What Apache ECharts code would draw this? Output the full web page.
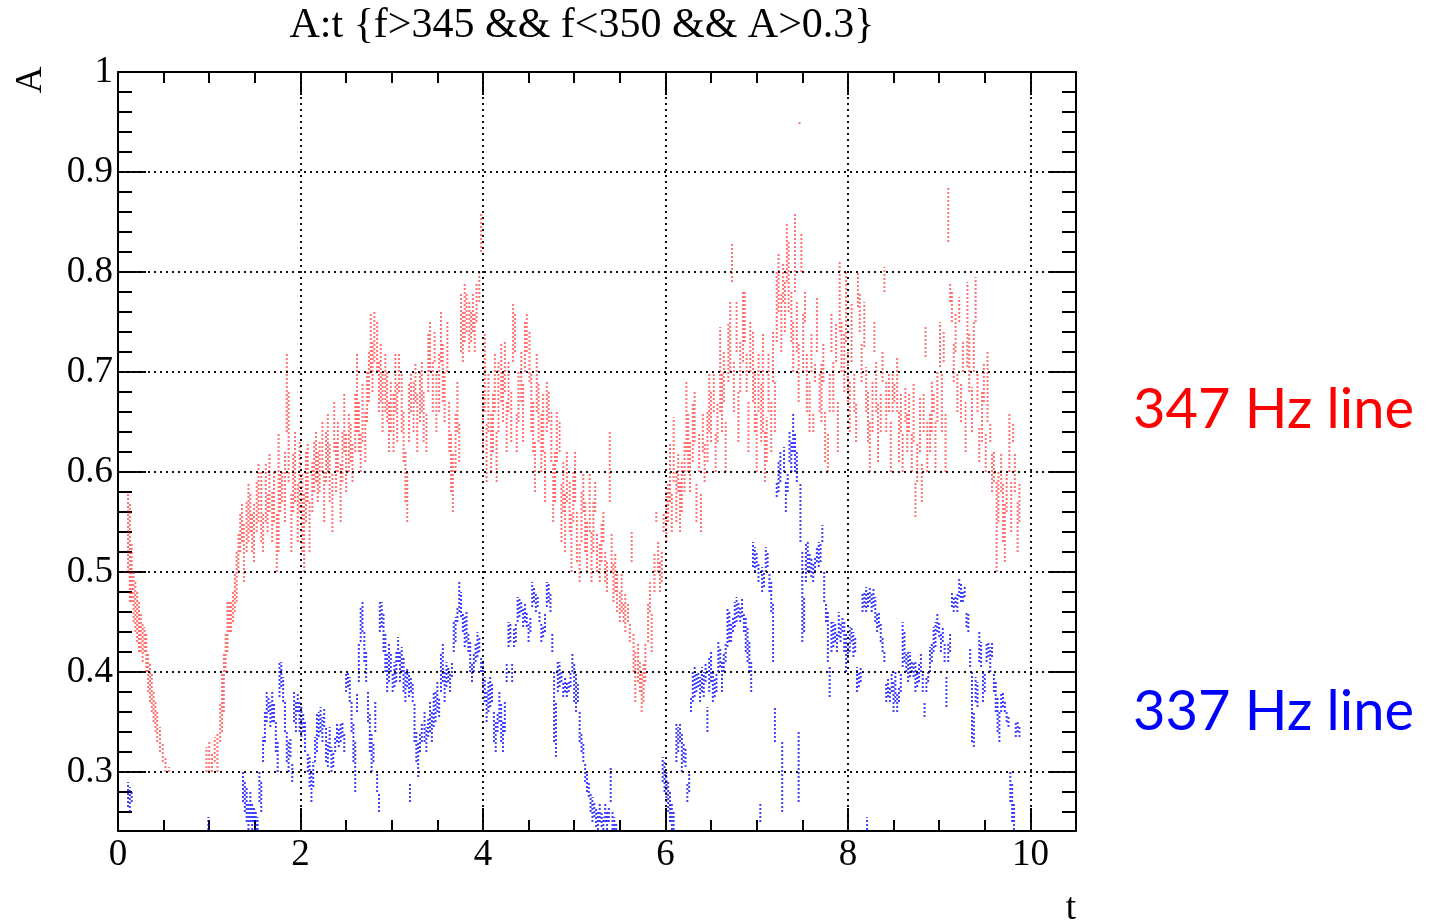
<!DOCTYPE html>
<html>
<head>
<meta charset="utf-8">
<title>A:t {f>345 && f<350 && A>0.3}</title>
<script src="https://cdn.jsdelivr.net/npm/echarts@6/dist/echarts.min.js"></script>
<style>
  html, body { margin: 0; padding: 0; background: #fff; }
  #chart { width: 1435px; height: 920px; }
</style>
</head>
<body>
<div id="chart"></div>
<script>
// Each entry is one vertical run of samples: [t, A low, A high]
const red347 = [
  [0.11,0.50,0.58],[0.13,0.47,0.57],[0.15,0.47,0.53],[0.17,0.45,0.50],[0.19,0.44,0.49],[0.21,0.43,0.48],[0.23,0.42,0.47],[0.25,0.42,0.46],[0.27,0.41,0.45],[0.29,0.42,0.445],[0.31,0.40,0.44],[0.33,0.38,0.42],[0.35,0.37,0.41],[0.37,0.36,0.40],[0.39,0.35,0.38],[0.41,0.34,0.37],[0.43,0.33,0.36],[0.46,0.32,0.345],[0.49,0.31,0.33],[0.52,0.30,0.315],[0.56,0.30,0.305],
  [0.97,0.30,0.325],[1.00,0.30,0.33],[1.03,0.30,0.32],[1.06,0.31,0.335],[1.09,0.30,0.34],[1.12,0.33,0.37],[1.14,0.34,0.40],[1.16,0.36,0.42],[1.18,0.40,0.44],[1.20,0.42,0.47],[1.22,0.44,0.47],[1.24,0.44,0.47],[1.26,0.45,0.48],[1.28,0.46,0.50],[1.30,0.47,0.52],
  [1.32,0.50,0.54],[1.34,0.52,0.56],[1.36,0.53,0.57],[1.38,0.49,0.55],[1.41,0.52,0.57],[1.43,0.53,0.59],[1.45,0.54,0.58],[1.47,0.52,0.56],[1.49,0.51,0.57],[1.52,0.54,0.59],[1.54,0.55,0.61],[1.57,0.53,0.60],[1.59,0.52,0.56],[1.62,0.55,0.61],[1.64,0.54,0.58],[1.66,0.56,0.62],[1.69,0.53,0.58],[1.71,0.55,0.60],[1.74,0.50,0.56],[1.76,0.52,0.64],[1.78,0.56,0.60],[1.80,0.57,0.60],[1.83,0.55,0.62],[1.85,0.64,0.72],[1.87,0.59,0.68],[1.90,0.52,0.58],[1.92,0.56,0.62],[1.94,0.57,0.64],[1.97,0.53,0.59],[1.99,0.56,0.63],
  [2.02,0.52,0.60],[2.04,0.50,0.58],[2.06,0.55,0.62],[2.08,0.57,0.63],[2.10,0.52,0.57],[2.13,0.56,0.61],[2.15,0.58,0.63],[2.17,0.59,0.64],[2.19,0.57,0.62],[2.21,0.58,0.63],[2.24,0.60,0.65],[2.26,0.55,0.60],[2.28,0.59,0.64],[2.30,0.60,0.66],[2.32,0.57,0.63],[2.35,0.54,0.60],[2.37,0.62,0.67],[2.39,0.58,0.63],[2.41,0.60,0.65],[2.44,0.55,0.61],[2.46,0.59,0.64],[2.48,0.62,0.68],[2.50,0.58,0.64],[2.53,0.60,0.66],[2.55,0.61,0.65],[2.57,0.59,0.63],[2.60,0.62,0.68],[2.62,0.64,0.72],[2.64,0.62,0.67],[2.66,0.60,0.64],[2.68,0.63,0.69],[2.71,0.61,0.66],[2.73,0.65,0.70],[2.75,0.67,0.72],[2.77,0.70,0.76],[2.79,0.68,0.73],[2.81,0.71,0.76],[2.84,0.70,0.75],[2.86,0.66,0.71],[2.88,0.67,0.73],[2.90,0.64,0.70],[2.93,0.66,0.72],[2.95,0.65,0.70],[2.97,0.62,0.67],[2.99,0.64,0.69],
  [3.02,0.62,0.68],[3.04,0.66,0.72],[3.06,0.63,0.69],[3.08,0.68,0.72],[3.11,0.64,0.70],[3.13,0.61,0.66],[3.15,0.57,0.62],[3.17,0.55,0.60],[3.19,0.63,0.69],[3.21,0.66,0.70],[3.24,0.64,0.69],[3.26,0.67,0.71],[3.28,0.62,0.68],[3.31,0.65,0.70],[3.33,0.66,0.71],[3.35,0.63,0.68],[3.38,0.62,0.66],[3.40,0.68,0.74],[3.42,0.70,0.75],[3.45,0.66,0.71],[3.47,0.71,0.74],[3.49,0.64,0.70],[3.52,0.66,0.72],[3.54,0.71,0.76],[3.56,0.67,0.73],[3.58,0.65,0.70],[3.61,0.70,0.75],[3.63,0.62,0.67],[3.65,0.58,0.64],[3.67,0.56,0.62],[3.70,0.60,0.66],[3.72,0.64,0.69],[3.74,0.61,0.65],[3.76,0.72,0.78],[3.78,0.71,0.76],[3.80,0.73,0.79],[3.82,0.74,0.78],[3.85,0.72,0.77],[3.87,0.73,0.76],[3.89,0.74,0.78],[3.91,0.72,0.76],[3.93,0.75,0.79],[3.96,0.77,0.80],[3.98,0.82,0.86],[4.00,0.62,0.68],
  [4.02,0.66,0.74],[4.04,0.59,0.65],[4.06,0.64,0.70],[4.09,0.60,0.66],[4.11,0.62,0.68],[4.13,0.66,0.72],[4.15,0.59,0.64],[4.17,0.64,0.71],[4.20,0.67,0.73],[4.22,0.65,0.70],[4.24,0.68,0.73],[4.26,0.62,0.67],[4.28,0.66,0.71],[4.31,0.63,0.68],[4.33,0.71,0.77],[4.35,0.72,0.76],[4.37,0.62,0.66],[4.39,0.65,0.70],[4.42,0.67,0.72],[4.44,0.63,0.69],[4.46,0.70,0.75],[4.48,0.72,0.76],[4.51,0.69,0.74],[4.53,0.64,0.70],[4.55,0.62,0.67],[4.57,0.58,0.63],[4.59,0.66,0.72],[4.61,0.63,0.69],[4.64,0.60,0.66],[4.66,0.62,0.68],[4.68,0.57,0.62],[4.70,0.64,0.69],[4.72,0.65,0.68],[4.75,0.61,0.66],[4.77,0.55,0.61],[4.79,0.57,0.62],[4.81,0.61,0.66],[4.84,0.62,0.65],[4.86,0.53,0.59],[4.88,0.56,0.61],[4.90,0.52,0.58],[4.92,0.57,0.62],[4.95,0.54,0.59],[4.97,0.50,0.56],[4.99,0.55,0.60],
  [5.01,0.57,0.62],[5.03,0.51,0.56],[5.06,0.49,0.53],[5.08,0.53,0.58],[5.10,0.56,0.60],[5.12,0.52,0.57],[5.14,0.50,0.55],[5.17,0.54,0.60],[5.19,0.49,0.54],[5.21,0.52,0.57],[5.23,0.56,0.59],[5.25,0.50,0.54],[5.28,0.49,0.53],[5.30,0.51,0.55],[5.32,0.53,0.56],[5.34,0.49,0.52],[5.36,0.48,0.51],[5.39,0.57,0.64],[5.41,0.50,0.54],[5.43,0.47,0.51],[5.45,0.48,0.52],[5.47,0.46,0.50],[5.50,0.45,0.48],[5.52,0.46,0.50],[5.54,0.45,0.47],[5.56,0.44,0.48],[5.59,0.45,0.47],[5.61,0.43,0.45],[5.63,0.51,0.54],[5.65,0.40,0.44],[5.67,0.37,0.42],[5.70,0.39,0.43],[5.72,0.38,0.41],[5.74,0.36,0.40],[5.76,0.37,0.41],[5.78,0.39,0.43],[5.81,0.43,0.47],[5.83,0.46,0.49],[5.85,0.42,0.46],[5.88,0.48,0.52],[5.90,0.55,0.56],[5.92,0.50,0.53],[5.94,0.48,0.51],[5.96,0.49,0.52],[5.98,0.54,0.56],
  [6.01,0.53,0.58],[6.03,0.55,0.59],[6.05,0.57,0.63],[6.07,0.54,0.58],[6.09,0.59,0.655],[6.12,0.55,0.60],[6.14,0.58,0.62],[6.16,0.54,0.59],[6.18,0.56,0.61],[6.21,0.58,0.63],[6.23,0.62,0.69],[6.25,0.60,0.66],[6.27,0.58,0.63],[6.30,0.61,0.67],[6.32,0.63,0.68],[6.34,0.55,0.59],[6.37,0.60,0.64],[6.39,0.54,0.58],[6.41,0.62,0.66],[6.43,0.59,0.63],[6.46,0.61,0.66],[6.48,0.64,0.70],[6.50,0.63,0.68],[6.53,0.66,0.70],[6.55,0.60,0.64],[6.57,0.63,0.67],[6.60,0.66,0.745],[6.62,0.64,0.70],[6.64,0.67,0.72],[6.66,0.60,0.65],[6.69,0.69,0.75],[6.71,0.70,0.77],[6.73,0.79,0.83],[6.75,0.66,0.71],[6.78,0.72,0.77],[6.80,0.63,0.68],[6.82,0.68,0.73],[6.85,0.71,0.78],[6.87,0.73,0.78],[6.89,0.68,0.72],[6.91,0.62,0.67],[6.93,0.70,0.75],[6.96,0.67,0.74],[6.98,0.64,0.70],[7.00,0.60,0.66],
  [7.02,0.66,0.72],[7.05,0.63,0.69],[7.07,0.64,0.74],[7.09,0.59,0.64],[7.11,0.61,0.655],[7.13,0.66,0.72],[7.16,0.62,0.67],[7.18,0.69,0.74],[7.20,0.64,0.69],[7.22,0.73,0.80],[7.24,0.76,0.82],[7.27,0.72,0.78],[7.29,0.77,0.81],[7.31,0.74,0.79],[7.33,0.79,0.85],[7.35,0.76,0.83],[7.38,0.73,0.78],[7.40,0.70,0.75],[7.42,0.78,0.86],[7.44,0.72,0.77],[7.46,0.67,0.73],[7.47,0.948,0.952],[7.49,0.80,0.84],[7.51,0.70,0.76],[7.53,0.75,0.78],[7.55,0.66,0.72],[7.58,0.64,0.69],[7.60,0.70,0.74],[7.62,0.64,0.66],[7.64,0.69,0.71],[7.66,0.72,0.775],[7.69,0.66,0.70],[7.71,0.65,0.71],[7.73,0.69,0.73],[7.75,0.61,0.66],[7.78,0.60,0.64],[7.80,0.66,0.70],[7.82,0.72,0.76],[7.84,0.66,0.71],[7.87,0.71,0.75],[7.89,0.62,0.67],[7.91,0.74,0.81],[7.93,0.70,0.75],[7.96,0.68,0.74],[7.98,0.73,0.80],
  [8.00,0.67,0.72],[8.02,0.64,0.69],[8.04,0.71,0.77],[8.07,0.66,0.70],[8.09,0.63,0.67],[8.11,0.765,0.80],[8.13,0.74,0.78],[8.15,0.69,0.73],[8.18,0.725,0.77],[8.20,0.66,0.705],[8.22,0.63,0.68],[8.24,0.60,0.65],[8.27,0.64,0.69],[8.29,0.72,0.75],[8.31,0.66,0.71],[8.33,0.61,0.67],[8.36,0.64,0.68],[8.38,0.69,0.72],[8.40,0.78,0.805],[8.42,0.64,0.69],[8.45,0.66,0.70],[8.47,0.60,0.65],[8.49,0.66,0.70],[8.51,0.67,0.69],[8.54,0.66,0.715],[8.56,0.61,0.66],[8.58,0.64,0.68],[8.60,0.60,0.64],[8.63,0.65,0.685],[8.65,0.62,0.66],[8.67,0.64,0.68],[8.70,0.60,0.64],[8.72,0.63,0.69],[8.74,0.555,0.59],[8.76,0.59,0.63],[8.79,0.62,0.675],[8.81,0.57,0.61],[8.83,0.64,0.68],[8.85,0.715,0.745],[8.87,0.60,0.65],[8.90,0.62,0.66],[8.92,0.64,0.69],[8.94,0.66,0.68],[8.96,0.60,0.65],[8.98,0.65,0.70],
  [9.01,0.705,0.75],[9.03,0.64,0.70],[9.05,0.71,0.74],[9.07,0.60,0.66],[9.10,0.83,0.885],[9.12,0.77,0.79],[9.14,0.75,0.78],[9.16,0.69,0.73],[9.18,0.72,0.76],[9.20,0.66,0.70],[9.22,0.75,0.775],[9.24,0.65,0.69],[9.26,0.70,0.73],[9.29,0.62,0.67],[9.31,0.705,0.79],[9.33,0.68,0.74],[9.36,0.64,0.685],[9.38,0.70,0.75],[9.40,0.75,0.795],[9.42,0.66,0.70],[9.44,0.61,0.645],[9.47,0.63,0.68],[9.49,0.67,0.71],[9.51,0.60,0.64],[9.53,0.65,0.72],[9.56,0.63,0.65],[9.58,0.58,0.62],[9.60,0.59,0.62],[9.63,0.50,0.59],[9.65,0.55,0.60],[9.68,0.58,0.62],[9.70,0.53,0.59],[9.72,0.51,0.57],[9.74,0.56,0.60],[9.77,0.60,0.66],[9.79,0.54,0.59],[9.81,0.63,0.65],[9.83,0.58,0.62],[9.86,0.52,0.57],[9.88,0.55,0.59]
];

const blue337 = [
  [0.11,0.265,0.29],[0.13,0.26,0.285],[0.15,0.27,0.28],
  [0.99,0.242,0.255],
  [1.37,0.27,0.30],[1.39,0.26,0.29],[1.41,0.25,0.285],[1.43,0.242,0.27],[1.45,0.25,0.28],[1.47,0.242,0.27],[1.49,0.25,0.265],[1.51,0.242,0.26],[1.53,0.242,0.255],[1.55,0.27,0.30],[1.57,0.26,0.29],[1.59,0.31,0.335],[1.61,0.33,0.36],[1.63,0.35,0.38],[1.65,0.36,0.375],[1.67,0.345,0.37],[1.69,0.35,0.38],[1.71,0.35,0.37],[1.73,0.32,0.35],[1.75,0.30,0.33],[1.77,0.375,0.41],[1.79,0.385,0.41],[1.81,0.37,0.395],[1.83,0.34,0.37],[1.85,0.31,0.34],[1.87,0.30,0.33],[1.89,0.315,0.335],[1.91,0.29,0.31],[1.93,0.35,0.38],[1.95,0.34,0.37],[1.97,0.36,0.38],[1.99,0.34,0.37],
  [2.01,0.335,0.365],[2.03,0.34,0.36],[2.05,0.32,0.35],[2.08,0.30,0.32],[2.10,0.285,0.315],[2.12,0.27,0.30],[2.14,0.285,0.31],[2.16,0.31,0.335],[2.18,0.32,0.36],[2.20,0.335,0.36],[2.22,0.34,0.365],[2.24,0.33,0.355],[2.26,0.345,0.365],[2.28,0.31,0.345],[2.30,0.305,0.33],[2.32,0.32,0.345],[2.34,0.30,0.325],[2.36,0.305,0.32],[2.38,0.32,0.335],[2.40,0.33,0.35],[2.42,0.325,0.345],[2.44,0.33,0.35],[2.46,0.335,0.35],[2.48,0.32,0.34],[2.50,0.38,0.40],[2.52,0.385,0.40],[2.54,0.37,0.395],[2.56,0.34,0.37],[2.58,0.31,0.35],[2.60,0.28,0.33],[2.62,0.36,0.38],[2.64,0.39,0.43],[2.66,0.43,0.465],[2.68,0.44,0.47],[2.70,0.41,0.44],[2.72,0.39,0.42],[2.74,0.35,0.38],[2.76,0.32,0.36],[2.78,0.30,0.34],[2.80,0.31,0.33],[2.82,0.34,0.37],[2.84,0.28,0.30],[2.86,0.26,0.28],[2.87,0.44,0.47],[2.89,0.445,0.47],[2.91,0.42,0.46],[2.93,0.40,0.44],[2.95,0.38,0.42],[2.97,0.39,0.43],[2.99,0.40,0.42],
  [3.01,0.38,0.40],[3.03,0.385,0.41],[3.05,0.39,0.42],[3.07,0.41,0.435],[3.09,0.39,0.42],[3.11,0.40,0.425],[3.13,0.38,0.415],[3.15,0.37,0.40],[3.17,0.385,0.405],[3.19,0.375,0.40],[3.20,0.27,0.29],[3.21,0.38,0.395],[3.23,0.37,0.39],[3.25,0.33,0.37],[3.27,0.31,0.34],[3.29,0.295,0.33],[3.31,0.32,0.34],[3.33,0.33,0.35],[3.36,0.33,0.36],[3.38,0.32,0.345],[3.40,0.335,0.355],[3.42,0.34,0.37],[3.44,0.33,0.36],[3.46,0.345,0.38],[3.48,0.35,0.38],[3.50,0.36,0.39],[3.52,0.355,0.375],[3.54,0.38,0.42],[3.56,0.39,0.43],[3.58,0.37,0.40],[3.60,0.385,0.41],[3.62,0.39,0.405],[3.64,0.38,0.40],[3.66,0.395,0.41],[3.68,0.42,0.45],[3.70,0.43,0.455],[3.72,0.45,0.465],[3.74,0.46,0.49],[3.76,0.455,0.48],[3.78,0.44,0.46],[3.80,0.425,0.455],[3.82,0.43,0.46],[3.84,0.42,0.44],[3.86,0.40,0.43],[3.88,0.39,0.41],[3.90,0.40,0.42],[3.92,0.41,0.43],[3.94,0.415,0.44],[3.96,0.42,0.435],[3.98,0.40,0.415],
  [4.00,0.38,0.41],[4.02,0.37,0.395],[4.04,0.35,0.38],[4.06,0.36,0.39],[4.08,0.365,0.395],[4.10,0.37,0.39],[4.12,0.33,0.36],[4.14,0.32,0.35],[4.16,0.34,0.36],[4.18,0.35,0.38],[4.20,0.33,0.37],[4.22,0.32,0.35],[4.24,0.34,0.37],[4.26,0.39,0.41],[4.28,0.425,0.45],[4.30,0.43,0.45],[4.32,0.39,0.41],[4.34,0.425,0.445],[4.36,0.43,0.45],[4.38,0.45,0.475],[4.40,0.455,0.475],[4.42,0.46,0.47],[4.44,0.445,0.465],[4.46,0.45,0.47],[4.48,0.445,0.46],[4.50,0.43,0.45],[4.52,0.44,0.455],[4.54,0.465,0.49],[4.56,0.47,0.485],[4.58,0.46,0.48],[4.60,0.465,0.475],[4.62,0.45,0.46],[4.64,0.43,0.45],[4.66,0.435,0.445],[4.68,0.44,0.46],[4.70,0.465,0.49],[4.72,0.47,0.49],[4.74,0.46,0.48],[4.76,0.42,0.44],[4.78,0.33,0.40],[4.80,0.315,0.37],[4.82,0.38,0.41],[4.84,0.385,0.41],[4.86,0.39,0.40],[4.88,0.375,0.39],[4.90,0.38,0.395],[4.92,0.375,0.39],[4.94,0.38,0.39],[4.96,0.385,0.40],[4.98,0.40,0.42],
  [5.00,0.37,0.41],[5.02,0.36,0.40],[5.04,0.37,0.39],[5.06,0.33,0.36],[5.08,0.32,0.34],[5.10,0.31,0.33],[5.12,0.29,0.31],[5.14,0.28,0.30],[5.16,0.275,0.29],[5.18,0.26,0.28],[5.20,0.25,0.275],[5.22,0.255,0.27],[5.24,0.245,0.265],[5.26,0.242,0.26],[5.28,0.25,0.27],[5.30,0.245,0.26],[5.32,0.242,0.255],[5.34,0.25,0.27],[5.36,0.242,0.26],[5.38,0.25,0.265],[5.40,0.27,0.305],[5.42,0.242,0.26],[5.44,0.242,0.255],[5.46,0.242,0.25],
  [5.97,0.29,0.315],[5.99,0.28,0.31],[6.01,0.27,0.30],[6.03,0.26,0.29],[6.05,0.25,0.28],[6.07,0.242,0.27],[6.09,0.242,0.26],[6.12,0.31,0.35],[6.14,0.32,0.345],[6.16,0.33,0.35],[6.18,0.30,0.34],[6.20,0.31,0.33],[6.22,0.305,0.325],[6.24,0.27,0.29],[6.26,0.28,0.30],[6.28,0.36,0.375],[6.30,0.37,0.40],[6.32,0.375,0.405],[6.34,0.38,0.40],[6.36,0.385,0.40],[6.38,0.37,0.395],[6.40,0.38,0.405],[6.42,0.375,0.40],[6.44,0.39,0.41],[6.46,0.34,0.365],[6.48,0.38,0.415],[6.50,0.39,0.42],[6.52,0.37,0.40],[6.54,0.375,0.395],[6.56,0.38,0.40],[6.58,0.40,0.43],[6.60,0.405,0.425],[6.62,0.38,0.41],[6.64,0.40,0.42],[6.66,0.41,0.43],[6.68,0.425,0.465],[6.70,0.43,0.46],[6.72,0.43,0.45],[6.74,0.44,0.455],[6.76,0.445,0.47],[6.78,0.45,0.475],[6.80,0.455,0.47],[6.82,0.45,0.465],[6.84,0.455,0.475],[6.86,0.44,0.46],[6.88,0.42,0.455],[6.90,0.41,0.445],[6.92,0.40,0.43],[6.94,0.38,0.41],[6.96,0.505,0.53],[6.98,0.50,0.525],
  [7.00,0.505,0.52],[7.02,0.49,0.51],[7.04,0.25,0.27],[7.06,0.48,0.505],[7.08,0.485,0.50],[7.10,0.50,0.525],[7.12,0.505,0.52],[7.14,0.48,0.50],[7.16,0.46,0.49],[7.18,0.41,0.47],[7.20,0.33,0.365],[7.22,0.575,0.59],[7.24,0.58,0.61],[7.26,0.59,0.62],[7.28,0.26,0.33],[7.30,0.60,0.625],[7.32,0.56,0.59],[7.34,0.58,0.60],[7.36,0.61,0.64],[7.38,0.60,0.63],[7.40,0.62,0.66],[7.42,0.60,0.64],[7.44,0.59,0.62],[7.46,0.27,0.34],[7.48,0.53,0.59],[7.50,0.43,0.52],[7.52,0.44,0.475],[7.54,0.49,0.53],[7.56,0.50,0.53],[7.58,0.50,0.52],[7.60,0.495,0.515],[7.62,0.49,0.51],[7.64,0.50,0.515],[7.66,0.51,0.525],[7.68,0.505,0.53],[7.70,0.51,0.53],[7.72,0.53,0.547],[7.74,0.47,0.50],[7.76,0.45,0.47],[7.78,0.41,0.46],[7.80,0.375,0.405],[7.82,0.42,0.45],[7.84,0.425,0.45],[7.86,0.43,0.45],[7.88,0.42,0.44],[7.90,0.435,0.46],[7.92,0.43,0.45],[7.94,0.44,0.455],[7.96,0.42,0.45],[7.98,0.40,0.44],
  [8.00,0.41,0.43],[8.02,0.42,0.445],[8.04,0.43,0.445],[8.06,0.415,0.44],[8.08,0.42,0.435],[8.10,0.38,0.405],[8.12,0.385,0.40],[8.14,0.39,0.405],[8.16,0.46,0.48],[8.18,0.465,0.48],[8.20,0.46,0.485],[8.21,0.242,0.255],[8.22,0.465,0.48],[8.24,0.47,0.485],[8.26,0.46,0.48],[8.28,0.465,0.485],[8.30,0.45,0.475],[8.32,0.44,0.46],[8.34,0.445,0.46],[8.36,0.43,0.45],[8.38,0.42,0.435],[8.40,0.41,0.42],[8.42,0.37,0.39],[8.44,0.375,0.395],[8.46,0.37,0.385],[8.48,0.38,0.40],[8.50,0.36,0.39],[8.52,0.37,0.40],[8.54,0.36,0.38],[8.56,0.37,0.385],[8.58,0.38,0.40],[8.60,0.405,0.45],[8.62,0.41,0.44],[8.64,0.40,0.42],[8.66,0.39,0.42],[8.68,0.395,0.42],[8.70,0.40,0.41],[8.72,0.395,0.41],[8.74,0.38,0.41],[8.76,0.385,0.40],[8.78,0.39,0.41],[8.80,0.40,0.42],[8.82,0.38,0.40],[8.84,0.355,0.37],[8.86,0.38,0.395],[8.88,0.39,0.40],[8.90,0.40,0.425],[8.92,0.41,0.43],[8.94,0.42,0.445],[8.96,0.425,0.45],[8.98,0.44,0.46],
  [9.00,0.435,0.45],[9.02,0.42,0.44],[9.04,0.43,0.445],[9.06,0.41,0.43],[9.08,0.365,0.395],[9.10,0.41,0.43],[9.12,0.42,0.44],[9.14,0.465,0.48],[9.16,0.46,0.475],[9.18,0.465,0.475],[9.20,0.46,0.48],[9.22,0.475,0.495],[9.24,0.47,0.49],[9.26,0.47,0.48],[9.28,0.475,0.485],[9.30,0.445,0.46],[9.32,0.44,0.46],[9.34,0.405,0.425],[9.36,0.33,0.40],[9.38,0.325,0.36],[9.40,0.37,0.395],[9.42,0.365,0.39],[9.44,0.41,0.44],[9.46,0.405,0.43],[9.48,0.37,0.40],[9.50,0.38,0.40],[9.52,0.41,0.43],[9.54,0.415,0.43],[9.56,0.40,0.425],[9.58,0.415,0.43],[9.60,0.38,0.40],[9.62,0.36,0.39],[9.64,0.34,0.375],[9.66,0.33,0.36],[9.68,0.36,0.38],[9.70,0.365,0.38],[9.72,0.36,0.37],[9.74,0.35,0.36],[9.76,0.345,0.355],[9.78,0.27,0.30],[9.80,0.25,0.29],[9.82,0.242,0.27],[9.84,0.335,0.35],[9.86,0.34,0.35],[9.88,0.335,0.345]
];

// Axis tick positions and labels
const xMajorTicks = [0, 2, 4, 6, 8, 10];
const xMinorTicks = [0.5, 1, 1.5, 2.5, 3, 3.5, 4.5, 5, 5.5, 6.5, 7, 7.5, 8.5, 9, 9.5];
const yMajorTicks = [0.3, 0.4, 0.5, 0.6, 0.7, 0.8, 0.9, 1];
const yMinorTicks = [0.26, 0.28, 0.32, 0.34, 0.36, 0.38, 0.42, 0.44, 0.46, 0.48,
                     0.52, 0.54, 0.56, 0.58, 0.62, 0.64, 0.66, 0.68, 0.72, 0.74,
                     0.76, 0.78, 0.82, 0.84, 0.86, 0.88, 0.92, 0.94, 0.96, 0.98];
const xGridLines = [2, 4, 6, 8, 10];
const yGridLines = [0.3, 0.4, 0.5, 0.6, 0.7, 0.8, 0.9];

const T_MIN = 0, T_MAX = 10.5;
const A_MIN = 0.241, A_MAX = 1;

const SERIF = '"Liberation Serif", "DejaVu Serif", serif';

function xAxisDef(position, ticks, len, showLine, labels) {
  return {
    type: 'value', position: position, gridIndex: 0, min: T_MIN, max: T_MAX,
    axisLine: { show: showLine, onZero: false, lineStyle: { color: '#000', width: 2 } },
    axisTick: { show: true, inside: true, length: len, customValues: ticks,
                lineStyle: { color: '#000', width: 2 } },
    axisLabel: labels ? { show: true, customValues: labels, margin: 6, color: '#000',
                          fontFamily: SERIF, fontSize: 37 } : { show: false },
    splitLine: { show: false }
  };
}

function yAxisDef(position, ticks, len, showLine, labels) {
  return {
    type: 'value', position: position, gridIndex: 0, min: A_MIN, max: A_MAX,
    axisLine: { show: showLine, onZero: false, lineStyle: { color: '#000', width: 2 } },
    axisTick: { show: true, inside: true, length: len, customValues: ticks,
                lineStyle: { color: '#000', width: 2 } },
    axisLabel: labels ? { show: true, customValues: labels, margin: 5, color: '#000',
                          fontFamily: SERIF, fontSize: 37 } : { show: false },
    splitLine: { show: false }
  };
}

// One custom series per spectral line: every run is drawn as a dotted vertical stroke
function streakSeries(name, data, color) {
  return {
    type: 'custom', name: name, xAxisIndex: 0, yAxisIndex: 0, clip: true, silent: true,
    data: data,
    renderItem: function (params, api) {
      const lo = api.coord([api.value(0), api.value(1)]);
      const hi = api.coord([api.value(0), api.value(2)]);
      return {
        type: 'line',
        shape: { x1: lo[0], y1: lo[1], x2: hi[0], y2: Math.min(hi[1], lo[1] - 2) },
        style: { stroke: color, lineWidth: 2, lineDash: [2, 2] }
      };
    }
  };
}

const gridMarks = {
  silent: true, symbol: ['none', 'none'], label: { show: false },
  lineStyle: { color: '#111', width: 2, type: [2, 4] },
  data: xGridLines.map(v => ({ xAxis: v })).concat(yGridLines.map(v => ({ yAxis: v })))
};

const redSeries = streakSeries('347 Hz', red347, 'rgba(255,0,0,0.55)');
redSeries.markLine = gridMarks;
const blueSeries = streakSeries('337 Hz', blue337, 'rgba(0,0,255,0.75)');

const chart = echarts.init(document.getElementById('chart'), null, { renderer: 'canvas' });
chart.setOption({
  animation: false,
  backgroundColor: '#fff',
  grid: { left: 118, top: 72, right: 359, bottom: 89, containLabel: false },
  xAxis: [
    xAxisDef('bottom', xMajorTicks, 23, true, xMajorTicks),
    xAxisDef('bottom', xMinorTicks, 11, false, null),
    xAxisDef('top', xMajorTicks, 23, true, null),
    xAxisDef('top', xMinorTicks, 11, false, null)
  ],
  yAxis: [
    yAxisDef('left', yMajorTicks, 28, true, yMajorTicks),
    yAxisDef('left', yMinorTicks, 14, false, null),
    yAxisDef('right', yMajorTicks, 28, true, null),
    yAxisDef('right', yMinorTicks, 14, false, null)
  ],
  series: [redSeries, blueSeries],
  graphic: [
    { type: 'text', x: 582, y: 26,
      style: { text: 'A:t {f>345 && f<350 && A>0.3}', font: '42px ' + SERIF, fill: '#000',
               textAlign: 'center', align: 'center', textVerticalAlign: 'middle', verticalAlign: 'middle' } },
    { type: 'text', x: 31, y: 80, rotation: Math.PI / 2,
      style: { text: 'A', font: '37px ' + SERIF, fill: '#000',
               textAlign: 'center', align: 'center', textVerticalAlign: 'middle', verticalAlign: 'middle' } },
    { type: 'text', x: 1071, y: 909,
      style: { text: 't', font: '37px ' + SERIF, fill: '#000',
               textAlign: 'center', align: 'center', textVerticalAlign: 'middle', verticalAlign: 'middle' } },
    { type: 'text', x: 1133, y: 410,
      style: { text: '347 Hz line', font: '56px Lato, "Open Sans", sans-serif', fill: '#ff0000',
               textAlign: 'left', align: 'left', textVerticalAlign: 'middle', verticalAlign: 'middle' } },
    { type: 'text', x: 1133, y: 712,
      style: { text: '337 Hz line', font: '56px Lato, "Open Sans", sans-serif', fill: '#0000ff',
               textAlign: 'left', align: 'left', textVerticalAlign: 'middle', verticalAlign: 'middle' } }
  ]
});
</script>
</body>
</html>
